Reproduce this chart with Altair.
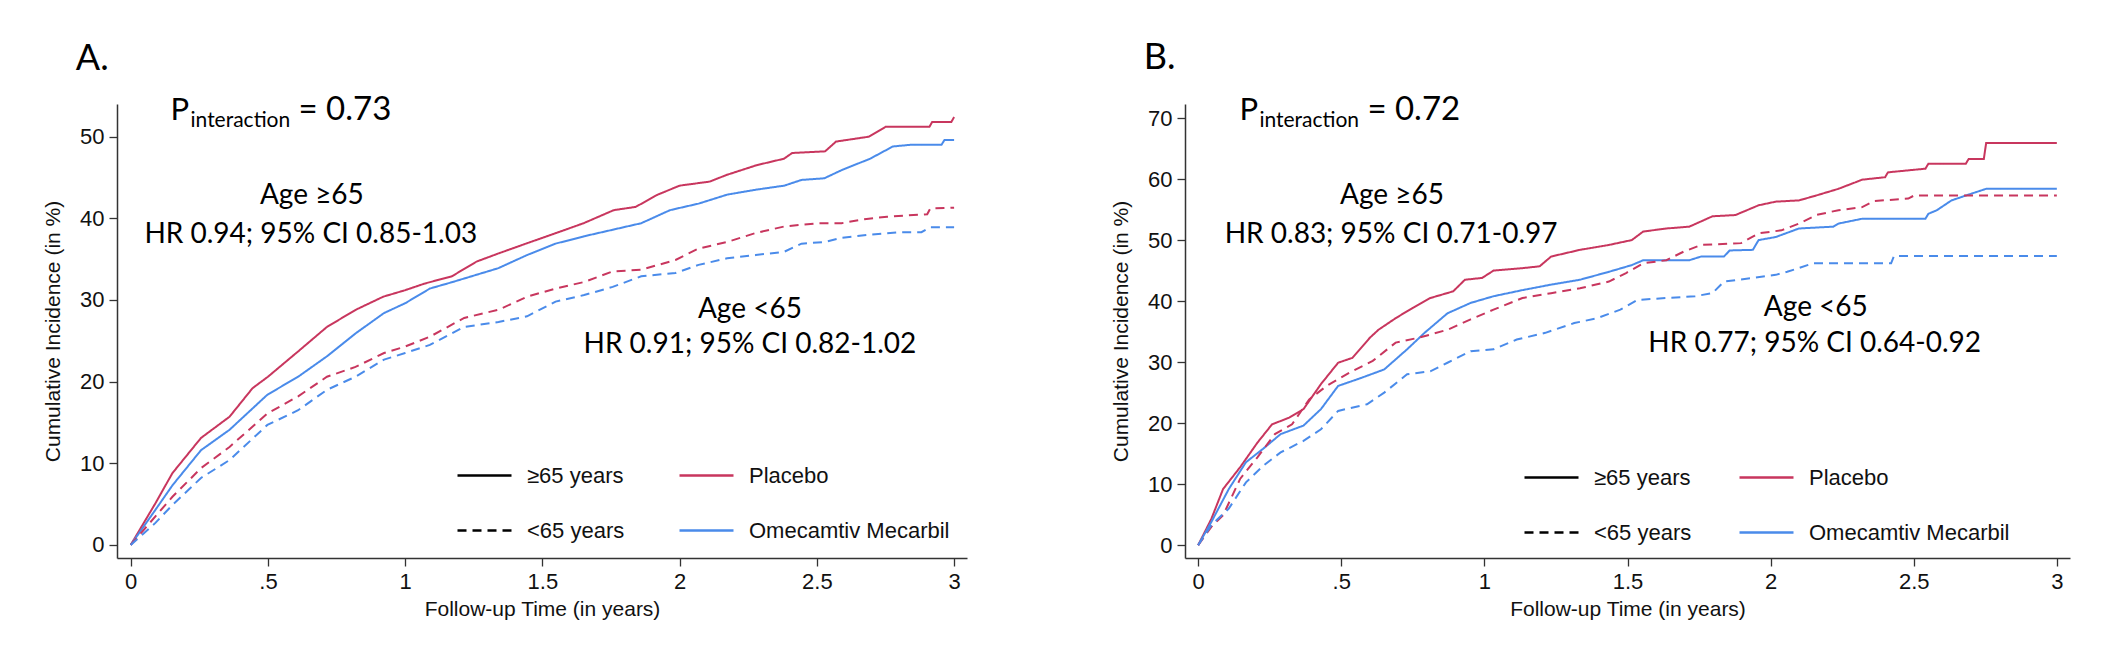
import altair as alt
import pandas as pd

# ---------------- Panel A : curves (years, cumulative incidence %) ----------------
a_pl_old_t = [0, 0.09, 0.152, 0.256, 0.36, 0.444, 0.5, 0.61, 0.715, 0.82, 0.92, 1.0, 1.07, 1.17, 1.26, 1.34,
              1.44, 1.55, 1.65, 1.76, 1.84, 1.92, 2.0, 2.11, 2.17, 2.28, 2.38, 2.41, 2.53, 2.57, 2.69, 2.75,
              2.91, 2.92, 2.99, 3.0]
a_pl_old_y = [0, 5.1, 8.8, 13.1, 15.7, 19.2, 20.6, 23.7, 26.7, 28.8, 30.4, 31.2, 32.0, 32.9, 34.7, 35.7,
              36.9, 38.2, 39.4, 41.0, 41.4, 42.9, 44.0, 44.5, 45.3, 46.5, 47.3, 48.0, 48.2, 49.4, 50.0, 51.2,
              51.2, 51.8, 51.8, 52.4]

a_om_old_t = [0, 0.090, 0.152, 0.256, 0.360, 0.498, 0.610, 0.715, 0.819, 0.923, 1.0, 1.090, 1.173, 1.340,
              1.444, 1.548, 1.652, 1.756, 1.860, 1.965, 2.069, 2.173, 2.277, 2.381, 2.444, 2.527, 2.590,
              2.694, 2.777, 2.840, 2.954, 2.965, 3.0]
a_om_old_y = [0, 4.3, 7.3, 11.6, 14.1, 18.4, 20.6, 23.1, 25.9, 28.4, 29.6, 31.4, 32.2, 33.9, 35.5, 36.9,
              37.8, 38.6, 39.4, 41.0, 41.8, 42.9, 43.5, 44.0, 44.7, 44.9, 45.9, 47.3, 48.8, 49.0, 49.0, 49.6,
              49.6]

a_pl_young_t = [0, 0.090, 0.152, 0.256, 0.360, 0.498, 0.610, 0.715, 0.819, 0.923, 1.0, 1.090, 1.215, 1.340,
                1.444, 1.548, 1.652, 1.756, 1.860, 1.985, 2.069, 2.173, 2.277, 2.381, 2.506, 2.590, 2.673,
                2.756, 2.902, 2.913, 3.0]
a_pl_young_y = [0, 3.5, 5.9, 9.4, 12.0, 16.1, 18.2, 20.6, 21.8, 23.5, 24.3, 25.5, 27.8, 28.8, 30.4, 31.4,
                32.2, 33.5, 33.7, 34.9, 36.3, 37.1, 38.2, 39.0, 39.4, 39.4, 39.9, 40.2, 40.5, 41.2, 41.3]

a_om_young_t = [0, 0.090, 0.152, 0.256, 0.360, 0.498, 0.610, 0.715, 0.819, 0.923, 1.0, 1.090, 1.215, 1.340,
                1.444, 1.548, 1.652, 1.756, 1.860, 1.985, 2.069, 2.173, 2.277, 2.381, 2.444, 2.527, 2.590,
                2.694, 2.798, 2.881, 2.913, 3.0]
a_om_young_y = [0, 2.7, 4.9, 8.2, 10.4, 14.7, 16.5, 19.0, 20.6, 22.7, 23.5, 24.5, 26.7, 27.3, 28.0, 29.8,
                30.6, 31.6, 32.9, 33.3, 34.3, 35.1, 35.5, 35.9, 36.9, 37.1, 37.6, 38.0, 38.3, 38.3, 38.9, 38.9]

# ---------------- Panel B ----------------
b_pl_old_t = [0, 0.046, 0.087, 0.147, 0.207, 0.258, 0.318, 0.368, 0.429, 0.489, 0.539, 0.600, 0.630, 0.690,
              0.750, 0.811, 0.891, 0.932, 0.992, 1.032, 1.133, 1.193, 1.233, 1.334, 1.435, 1.515, 1.555,
              1.636, 1.716, 1.797, 1.877, 1.958, 2.018, 2.099, 2.159, 2.237, 2.320, 2.400, 2.410, 2.541,
              2.551, 2.682, 2.692, 2.745, 2.753, 3.0]
b_pl_old_y = [0, 4.3, 9.2, 12.8, 16.8, 19.8, 20.9, 22.3, 26.4, 29.9, 30.7, 34.0, 35.3, 37.2, 38.9, 40.5,
              41.6, 43.5, 43.8, 45.0, 45.4, 45.7, 47.3, 48.4, 49.2, 50.0, 51.4, 51.9, 52.2, 53.9, 54.1, 55.7,
              56.3, 56.5, 57.3, 58.4, 59.9, 60.3, 61.1, 61.7, 62.5, 62.5, 63.3, 63.3, 65.9, 65.9]

b_om_old_t = [0, 0.046, 0.107, 0.167, 0.227, 0.288, 0.368, 0.429, 0.489, 0.569, 0.650, 0.730, 0.791, 0.871,
              0.952, 1.032, 1.133, 1.233, 1.334, 1.435, 1.515, 1.555, 1.716, 1.757, 1.837, 1.857, 1.938,
              1.958, 2.018, 2.099, 2.219, 2.237, 2.320, 2.541, 2.551, 2.581, 2.632, 2.682, 2.753, 3.0]
b_om_old_y = [0, 3.8, 9.2, 13.6, 15.8, 18.2, 19.6, 22.3, 26.1, 27.4, 28.8, 32.1, 34.8, 38.0, 39.7, 40.8,
              41.8, 42.7, 43.5, 44.8, 45.9, 46.7, 46.7, 47.3, 47.3, 48.3, 48.4, 50.0, 50.5, 51.9, 52.2, 52.7,
              53.5, 53.5, 54.3, 54.9, 56.5, 57.3, 58.4, 58.4]

b_pl_young_t = [0, 0.046, 0.087, 0.147, 0.207, 0.268, 0.328, 0.388, 0.449, 0.529, 0.610, 0.690, 0.771, 0.871,
                0.952, 1.032, 1.133, 1.233, 1.334, 1.435, 1.495, 1.555, 1.636, 1.696, 1.757, 1.897, 1.958,
                2.038, 2.099, 2.159, 2.237, 2.320, 2.360, 2.481, 2.501, 3.0]
b_pl_young_y = [0, 3.0, 4.9, 10.9, 14.4, 18.2, 19.8, 23.9, 26.1, 28.3, 30.2, 33.2, 34.0, 35.3, 37.0, 38.6,
                40.5, 41.3, 42.1, 43.2, 44.6, 46.2, 46.7, 48.1, 49.2, 49.5, 51.1, 51.6, 52.7, 54.1, 54.9, 55.4,
                56.4, 56.8, 57.3, 57.3]

b_om_young_t = [0, 0.046, 0.107, 0.167, 0.227, 0.288, 0.368, 0.429, 0.489, 0.590, 0.650, 0.730, 0.811, 0.871,
                0.952, 1.032, 1.113, 1.213, 1.314, 1.394, 1.475, 1.535, 1.736, 1.797, 1.837, 1.938, 2.018,
                2.058, 2.149, 2.421, 2.431, 3.0]
b_om_young_y = [0, 3.3, 6.0, 10.3, 13.0, 15.2, 17.1, 19.0, 22.0, 23.1, 25.0, 28.0, 28.5, 29.9, 31.8, 32.1,
                33.7, 34.8, 36.4, 37.2, 38.6, 40.2, 40.8, 41.3, 43.2, 43.8, 44.3, 44.8, 46.2, 46.2, 47.4, 47.4]

# ---------------- categories / ticks / labels ----------------
arm_domain = ["Placebo", "Omecamtiv Mecarbil"]
arm_colors = ["#C8365E", "#4A8BEA"]
age_domain = ["≥65 years", "<65 years"]
age_dash = [[1, 0], [9, 6]]

x_tick_values = [0, 0.5, 1, 1.5, 2, 2.5, 3]
x_tick_labels = ["0", ".5", "1", "1.5", "2", "2.5", "3"]
a_y_ticks = [0, 10, 20, 30, 40, 50]
b_y_ticks = [0, 10, 20, 30, 40, 50, 60, 70]

x_title = "Follow-up Time (in years)"
y_title = "Cumulative Incidence (in %)"

# annotations: text, anchor t (years), anchor y (%)
panel_letters = {"A": ("A.", -0.2, 58.2), "B": ("B.", -0.19, 78.0)}
p_values = {"A": ("= 0.73", 0.145, 52.0), "B": ("= 0.72", 0.144, 69.7)}
hr_blocks = {
    "A": [("Age ≥65", 0.66, 41.7), ("HR 0.94; 95% CI 0.85-1.03", 0.656, 37.0),
          ("Age <65", 2.256, 27.8), ("HR 0.91; 95% CI 0.82-1.02", 2.256, 23.5)],
    "B": [("Age ≥65", 0.677, 55.9), ("HR 0.83; 95% CI 0.71-0.97", 0.674, 49.6),
          ("Age <65", 2.158, 37.6), ("HR 0.77; 95% CI 0.64-0.92", 2.154, 31.7)],
}

series = [
    ("A", "Placebo", "≥65 years", a_pl_old_t, a_pl_old_y),
    ("A", "Omecamtiv Mecarbil", "≥65 years", a_om_old_t, a_om_old_y),
    ("A", "Placebo", "<65 years", a_pl_young_t, a_pl_young_y),
    ("A", "Omecamtiv Mecarbil", "<65 years", a_om_young_t, a_om_young_y),
    ("B", "Placebo", "≥65 years", b_pl_old_t, b_pl_old_y),
    ("B", "Omecamtiv Mecarbil", "≥65 years", b_om_old_t, b_om_old_y),
    ("B", "Placebo", "<65 years", b_pl_young_t, b_pl_young_y),
    ("B", "Omecamtiv Mecarbil", "<65 years", b_om_young_t, b_om_young_y),
]
rows = []
for panel, arm, age, ts, ys in series:
    for t, v in zip(ts, ys):
        rows.append({"panel": panel, "arm": arm, "age": age, "t": t, "y": v})
curves = pd.DataFrame(rows)

label_expr = " : ".join(
    f"datum.value == {v} ? '{l}'" for v, l in zip(x_tick_values, x_tick_labels)
) + " : datum.label"

AXIS_FONT = "Liberation Sans"
TEXT_FONT = "Lato"


def legend(x, y, **extra):
    return alt.Legend(title=None, orient="none", legendX=x, legendY=y,
                      symbolType="stroke", symbolSize=2916, symbolStrokeWidth=2.5,
                      labelFont=AXIS_FONT, labelFontSize=22, labelOffset=14, labelLimit=1000,
                      labelColor="#111", rowPadding=15, padding=0, **extra)


def make_panel(p, xdom, ydom, yticks, w, h, legx, legy):
    x = alt.X("t:Q", scale=alt.Scale(domain=xdom, nice=False, zero=False),
              axis=alt.Axis(values=x_tick_values, labelExpr=label_expr, title=x_title))
    y = alt.Y("y:Q", scale=alt.Scale(domain=ydom, nice=False, zero=False),
              axis=alt.Axis(values=yticks, title=y_title))

    lines = alt.Chart(curves[curves.panel == p]).mark_line(strokeWidth=2).encode(
        x=x, y=y,
        color=alt.Color("arm:N", scale=alt.Scale(domain=arm_domain, range=arm_colors),
                        legend=legend(legx[1], legy, symbolDash=[1, 0])),
        strokeDash=alt.StrokeDash("age:N", scale=alt.Scale(domain=age_domain, range=age_dash),
                                  legend=legend(legx[0], legy, symbolStrokeColor="black")),
    )

    letter_df = pd.DataFrame([{"label": panel_letters[p][0], "t": panel_letters[p][1], "y": panel_letters[p][2]}])
    pv = p_values[p]
    p_df = pd.DataFrame([{"label": "P", "t": pv[1], "y": pv[2]}])
    sub_df = pd.DataFrame([{"label": "interaction", "t": pv[1], "y": pv[2]}])
    eq_df = pd.DataFrame([{"label": pv[0], "t": pv[1], "y": pv[2]}])
    hr_df = pd.DataFrame([{"label": s, "t": t, "y": v} for s, t, v in hr_blocks[p]])

    letter = alt.Chart(letter_df).mark_text(font=TEXT_FONT, fontSize=36, align="left",
                                            baseline="alphabetic", color="black").encode(x=x, y=y, text="label:N")
    ptxt = alt.Chart(p_df).mark_text(font=TEXT_FONT, fontSize=31, align="left",
                                     baseline="alphabetic", color="black").encode(x=x, y=y, text="label:N")
    subtxt = alt.Chart(sub_df).mark_text(font=TEXT_FONT, fontSize=21, align="left", dx=20, dy=7,
                                         baseline="alphabetic", color="black").encode(x=x, y=y, text="label:N")
    eqtxt = alt.Chart(eq_df).mark_text(font=TEXT_FONT, fontSize=33, align="left", dx=128,
                                       baseline="alphabetic", color="black").encode(x=x, y=y, text="label:N")
    hrtxt = alt.Chart(hr_df).mark_text(font=TEXT_FONT, fontSize=28, align="center",
                                       baseline="alphabetic", color="black").encode(x=x, y=y, text="label:N")

    return alt.layer(lines, letter, ptxt, subtxt, eqtxt, hrtxt).properties(width=w, height=h)


panel_a = make_panel("A", [-0.05, 3.047], [-1.6, 54], a_y_ticks, 850, 454, (339, 561), 343)
panel_b = make_panel("B", [-0.046, 3.046], [-2.1, 72.3], b_y_ticks, 885, 454, (338, 553), 345)

chart = alt.hconcat(panel_a, panel_b, spacing=142).resolve_scale(
    color="independent", strokeDash="independent", x="independent", y="independent"
).resolve_legend(color="independent", strokeDash="independent").properties(
    padding={"left": 34, "top": 31, "right": 5, "bottom": 5}
).configure_view(stroke="transparent").configure_axis(
    labelFont=AXIS_FONT, titleFont=AXIS_FONT, labelFontSize=22, titleFontSize=21,
    titleFontWeight="normal", labelColor="#111", titleColor="#111",
    domainColor="#333", domainWidth=1.5, tickColor="#333", tickWidth=1.3, tickSize=8,
    grid=False, labelPadding=5, titlePadding=14
).configure_axisX(titlePadding=6).configure_axisY(titlePadding=16)

chart.save("out.html", embed_options={"renderer": "svg", "actions": False})
